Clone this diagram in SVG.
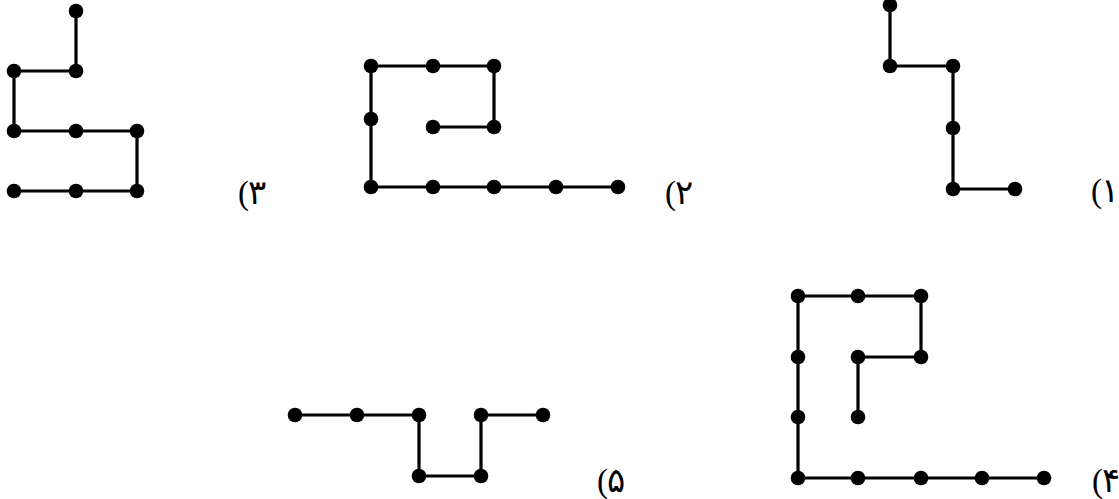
<svg xmlns="http://www.w3.org/2000/svg" width="1119" height="499" viewBox="0 0 1119 499">
<style>
.ln{fill:none;stroke:#000;stroke-width:3.2;stroke-linejoin:miter}
.dt{fill:#000}
.lb{font-family:"DejaVu Sans",sans-serif;font-size:34px;fill:#000}
.pr{font-family:"Liberation Serif",serif;font-size:33px}
</style>
<defs><circle id="d" r="7.3" class="dt"/></defs>
<rect width="1119" height="499" fill="#fff"/>
<g id="connectors">
<polyline class="ln" points="76,11 76,71 14,71 14,131 137,131 137,191 14,191"/>
<polyline class="ln" points="433,127 494,127 494,66 371,66 371,187 618,187"/>
<polyline class="ln" points="890,5 890,66 953,66 953,189 1015,189"/>
<polyline class="ln" points="295,415 419,415 419,476 481,476 481,415 543,415"/>
<polyline class="ln" points="858,417 858,357 921,357 921,296 798,296 798,478 1044,478"/>
</g>
<g id="fig3">
<use href="#d" x="76" y="11"/><use href="#d" x="14" y="71"/><use href="#d" x="76" y="71"/>
<use href="#d" x="14" y="131"/><use href="#d" x="76" y="131"/><use href="#d" x="137" y="131"/>
<use href="#d" x="14" y="191"/><use href="#d" x="76" y="191"/><use href="#d" x="137" y="191"/>
<text class="lb" x="238" y="204"><tspan class="pr">(</tspan><tspan dx="-1">۳</tspan></text>
</g>
<g id="fig2">
<use href="#d" x="371" y="66"/><use href="#d" x="433" y="66"/><use href="#d" x="494" y="66"/>
<use href="#d" x="371" y="119"/><use href="#d" x="433" y="127"/><use href="#d" x="494" y="127"/>
<use href="#d" x="371" y="187"/><use href="#d" x="433" y="187"/><use href="#d" x="494" y="187"/>
<use href="#d" x="556" y="187"/><use href="#d" x="618" y="187"/>
<text class="lb" x="665" y="204"><tspan class="pr">(</tspan><tspan dx="-1">۲</tspan></text>
</g>
<g id="fig1">
<use href="#d" x="890" y="5"/><use href="#d" x="890" y="66"/><use href="#d" x="953" y="66"/>
<use href="#d" x="953" y="128"/><use href="#d" x="953" y="189"/><use href="#d" x="1015" y="189"/>
<text class="lb" x="1091" y="202"><tspan class="pr">(</tspan><tspan dx="-1">۱</tspan></text>
</g>
<g id="fig5">
<use href="#d" x="295" y="415"/><use href="#d" x="357" y="415"/><use href="#d" x="419" y="415"/>
<use href="#d" x="481" y="415"/><use href="#d" x="543" y="415"/>
<use href="#d" x="419" y="476"/><use href="#d" x="481" y="476"/>
<text class="lb" x="597" y="492"><tspan class="pr">(</tspan><tspan dx="-1">۵</tspan></text>
</g>
<g id="fig4">
<use href="#d" x="798" y="296"/><use href="#d" x="858" y="296"/><use href="#d" x="921" y="296"/>
<use href="#d" x="798" y="357"/><use href="#d" x="858" y="357"/><use href="#d" x="921" y="357"/>
<use href="#d" x="798" y="417"/><use href="#d" x="858" y="417"/>
<use href="#d" x="798" y="478"/><use href="#d" x="858" y="478"/><use href="#d" x="921" y="478"/>
<use href="#d" x="982" y="478"/><use href="#d" x="1044" y="478"/>
<text class="lb" x="1092" y="492"><tspan class="pr">(</tspan><tspan dx="-1">۴</tspan></text>
</g>
</svg>
